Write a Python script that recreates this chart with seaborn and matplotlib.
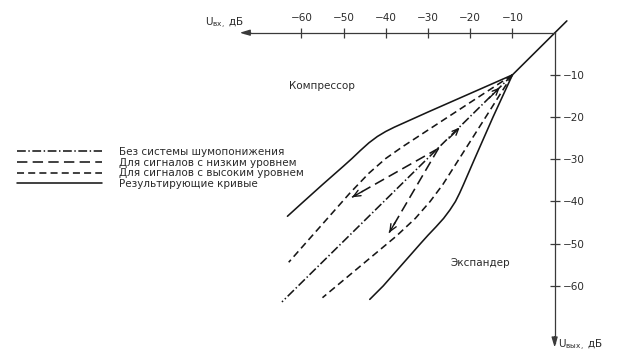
import matplotlib
matplotlib.use("Agg")
import matplotlib.pyplot as plt
import seaborn as sns

# Levels in dB: horizontal axis = input level, vertical axis = output level
tick_levels = [-60, -50, -40, -30, -20, -10]

# Resulting curves (compressor above the diagonal, expander below it)
compressor_in = [-10, -20, -30, -36, -38, -40, -42, -44, -46, -48, -50, -55, -60, -63.3]
compressor_out = [-10, -14.4, -18.8, -21.5, -22.4, -23.4, -24.6, -26.1, -27.9, -29.8,
                  -31.6, -36.0, -40.5, -43.5]
expander_in = [-10, -14.6, -19.0, -21.6, -22.5, -23.5, -24.8, -26.3, -28.1, -30.0,
               -31.8, -36.2, -40.6, -43.8]
expander_out = [-10, -20, -30, -36, -38, -40, -42, -44, -46, -48, -50, -55, -60, -63.2]
above_threshold_in = [-10, 2.9]
above_threshold_out = [-10, 2.8]

# Without noise reduction
unity_in = [-10, -64.6]
unity_out = [-10, -63.8]

# High-level signals
high_comp_in = [-10, -25, -36, -40, -44, -48.5, -63.0]
high_comp_out = [-10, -19.8, -27.0, -29.8, -33.3, -38.0, -54.4]
high_exp_in = [-10, -19.5, -26.5, -29.5, -33.0, -37.5, -55.0]
high_exp_out = [-10, -25, -36, -40, -44, -48.2, -62.8]

# Low-level signals
low_comp_in = [-27.5, -48.0]
low_comp_out = [-27.4, -39.0]
low_exp_in = [-27.5, -39.2]
low_exp_out = [-27.4, -47.4]

# Direction marks along the diagonal
path_marks = [-13.0, -22.5]

legend_labels = [
    "Без системы шумопонижения",
    "Для сигналов с низким уровнем",
    "Для сигналов с высоким уровнем",
    "Результирующие кривые",
]

INK = "#161616"
AXIS = "#3a3a3a"
TEXT = "#2a2a2a"
FS = 7.5

sns.set_style("white")
plt.rcParams["font.family"] = ["DejaVu Sans"]

fig = plt.figure(figsize=(6.23, 3.61), dpi=100)
ax = fig.add_axes([0, 0, 1, 1])
ax.set_xlim(-131.4, 16.2)
ax.set_ylim(-77.8, 7.75)

DASHDOT = (0, (5.5, 1.6, 0.9, 1.6))
LONG = (0, (6.5, 3.3))
SHORT = (0, (4.4, 2.6))


def curve(xs, ys, style, label=None):
    kw = dict(x=xs, y=ys, ax=ax, sort=False, estimator=None,
              color=INK, lw=1.15, linestyle=style)
    if label is not None:
        kw["label"] = label
    sns.lineplot(**kw)
    return ax.lines[-1]


h_unity = curve(unity_in, unity_out, DASHDOT, legend_labels[0])
h_low = curve(low_comp_in, low_comp_out, LONG, legend_labels[1])
curve(low_exp_in, low_exp_out, LONG)
h_high = curve(high_comp_in, high_comp_out, SHORT, legend_labels[2])
curve(high_exp_in, high_exp_out, SHORT)
h_res = curve(compressor_in, compressor_out, "-", legend_labels[3])
curve(expander_in, expander_out, "-")
curve(above_threshold_in, above_threshold_out, "-")

# arrowheads at the ends of the low-level paths
for xs, ys in [(low_comp_in, low_comp_out), (low_exp_in, low_exp_out)]:
    ax.annotate("", xy=(xs[-1], ys[-1]),
                xytext=(xs[-1] + (xs[0] - xs[-1]) * 0.12,
                        ys[-1] + (ys[0] - ys[-1]) * 0.12),
                arrowprops=dict(arrowstyle="->,head_length=0.5,head_width=0.22",
                                color=INK, lw=1.0, shrinkA=0, shrinkB=0))

# arrowheads pointing up the diagonal
for v in path_marks:
    ax.annotate("", xy=(v, v), xytext=(v - 2.5, v - 2.5),
                arrowprops=dict(arrowstyle="->,head_length=0.45,head_width=0.2",
                                color=INK, lw=1.0, shrinkA=0, shrinkB=0))

# axes through the origin
for side in ("left", "bottom"):
    ax.spines[side].set_visible(False)
ax.spines["top"].set_position(("data", 0))
ax.spines["right"].set_position(("data", 0))
ax.spines["top"].set_bounds(-73.6, 0)
ax.spines["right"].set_bounds(-73.5, 0)
for side in ("top", "right"):
    ax.spines[side].set_color(AXIS)
    ax.spines[side].set_linewidth(0.9)
ax.set_xticks(tick_levels)
ax.set_yticks(tick_levels)
ax.tick_params(bottom=False, left=False, labelbottom=False, labelleft=False,
               top=True, labeltop=True, right=True, labelright=True,
               direction="inout", width=0.9, color=AXIS,
               labelsize=FS, labelcolor=TEXT)
ax.tick_params(axis="x", length=6.5, pad=3.5)
ax.tick_params(axis="y", length=7.5, pad=2.5)
ax.set_xlabel("")
ax.set_ylabel("")
ax.grid(False)

ax.annotate("", xy=(-74.6, 0), xytext=(-72.0, 0),
            arrowprops=dict(arrowstyle="-|>,head_length=0.6,head_width=0.18",
                            color=AXIS, lw=0.9, shrinkA=0, shrinkB=0))
ax.annotate("", xy=(0, -74.6), xytext=(0, -72.0),
            arrowprops=dict(arrowstyle="-|>,head_length=0.6,head_width=0.18",
                            color=AXIS, lw=0.9, shrinkA=0, shrinkB=0))

ax.text(-82.8, 1.6, "U$_{\\mathregular{вх,}}$ дБ", fontsize=FS, color=TEXT,
        ha="left", va="baseline")
ax.text(0.8, -74.7, "U$_{\\mathregular{вых,}}$ дБ", fontsize=FS, color=TEXT,
        ha="left", va="baseline")
ax.text(-55.1, -12.6, "Компрессор", fontsize=FS, color=TEXT,
        ha="center", va="center")
ax.text(-17.5, -54.6, "Экспандер", fontsize=FS, color=TEXT,
        ha="center", va="center")

leg = ax.legend(handles=[h_unity, h_low, h_high, h_res], labels=legend_labels,
                loc="upper left", bbox_to_anchor=(17 / 623, 1 - 147 / 361),
                bbox_transform=fig.transFigure, frameon=False, fontsize=FS,
                handlelength=8.2, handletextpad=1.6, labelspacing=0.06,
                borderpad=0, borderaxespad=0)
for t in leg.get_texts():
    t.set_color(TEXT)

fig.savefig("out.png", dpi=100, facecolor="white")
